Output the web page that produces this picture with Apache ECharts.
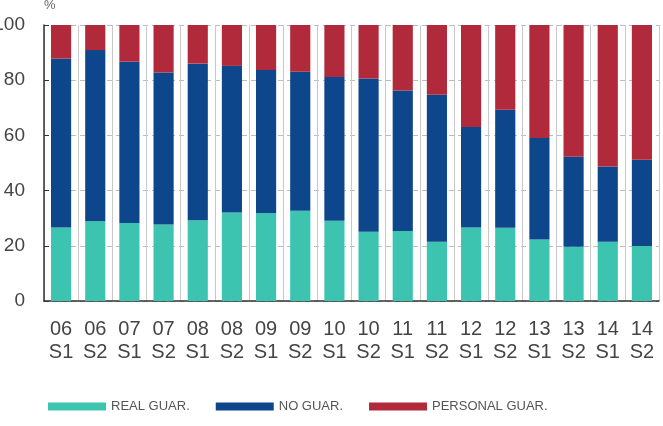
<!DOCTYPE html>
<html>
<head>
<meta charset="utf-8">
<script src="https://cdn.jsdelivr.net/npm/echarts@6/dist/echarts.min.js"></script>
<style>
html,body{margin:0;padding:0;background:#fff;}
#chart{width:663px;height:426px;}
</style>
</head>
<body>
<div id="chart"></div>
<script>
// periods (year + semester)
const categories = ['06 S1','06 S2','07 S1','07 S2','08 S1','08 S2','09 S1','09 S2','10 S1','10 S2','11 S1','11 S2','12 S1','12 S2','13 S1','13 S2','14 S1','14 S2'];
// shares in %
const realGuar = [26.6,28.9,28.3,27.7,29.3,32.1,31.9,32.7,29.1,25.1,25.4,21.5,26.6,26.5,22.3,19.7,21.5,19.9];
const noGuar = [61.2,62.0,58.4,55.1,56.7,53.1,51.8,50.4,52.1,55.5,50.9,53.2,36.4,42.8,36.8,32.6,27.2,31.3];
const personalGuar = [12.2,9.1,13.3,17.2,14.0,14.8,16.3,16.9,18.8,19.4,23.7,25.3,37.0,30.7,40.9,47.7,51.3,48.8];
const yTicks = [0,20,40,60,80,100];

let mycharts = echarts.init(document.getElementById('chart'));
const txt = '#444';
const font = "'Liberation Sans',sans-serif";

let options = {
    animation: false,
    grid: {left: 44, right: 4, top: 25, bottom: 125, outerBoundsMode: 'none'},
    legend: {
        top: 395,
        left: 43,
        itemWidth: 58,
        itemHeight: 8,
        itemGap: 26,
        icon: 'rect',
        textStyle: {fontFamily: font, fontSize: 13, color: '#555'},
        data: ['REAL GUAR.', 'NO GUAR.', 'PERSONAL GUAR.']
    },
    xAxis: {
        type: 'category',
        data: categories,
        axisLine: {lineStyle: {color: '#333', width: 1.5}},
        axisTick: {inside: true, length: 5, lineStyle: {color: '#333'}},
        axisLabel: {
            interval: 0,
            margin: 17,
            fontSize: 20,
            lineHeight: 23,
            color: txt,
            fontFamily: font,
            formatter: v => v.replace(' ', '\n')
        },
        splitLine: {show: true, lineStyle: {color: '#c8c8c8', width: 1}}
    },
    yAxis: {
        type: 'value',
        min: yTicks[0],
        max: yTicks[yTicks.length - 1],
        interval: 20,
        name: '%',
        nameGap: 13,
        nameTextStyle: {color: '#666', fontSize: 13, align: 'left'},
        axisLine: {show: true, lineStyle: {color: '#333', width: 1.5}},
        axisTick: {show: true, inside: true, length: 5, lineStyle: {color: '#333'}},
        axisLabel: {margin: 19, fontSize: 19, color: txt, fontFamily: font},
        splitLine: {lineStyle: {color: '#bdbdbd', type: [5, 4]}}
    },
    series: [
        {name: 'REAL GUAR.', type: 'bar', stack: 'g', data: realGuar, barWidth: '59%', itemStyle: {color: '#3cc4b0'}},
        {name: 'NO GUAR.', type: 'bar', stack: 'g', data: noGuar, barWidth: '59%', itemStyle: {color: '#0e468c'}},
        {name: 'PERSONAL GUAR.', type: 'bar', stack: 'g', data: personalGuar, barWidth: '59%', itemStyle: {color: '#b02a3c'}}
    ]
};
mycharts.setOption(options, true);
window.addEventListener('resize', () => mycharts.resize());
</script>
</body>
</html>
